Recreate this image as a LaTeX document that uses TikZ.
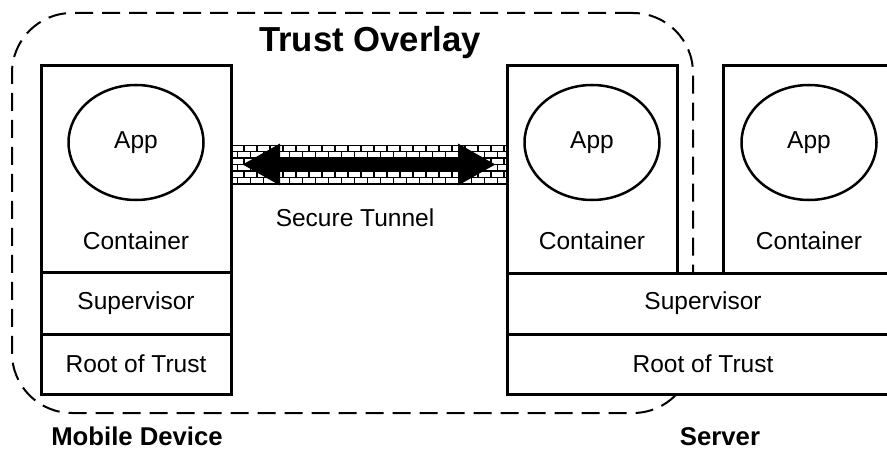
\documentclass[tikz,border=0pt]{standalone}
\usepackage{fontspec}
\setmainfont{Liberation Sans}
\usetikzlibrary{arrows.meta,positioning,shapes.geometric}

\tikzset{
    layer/.style={draw, line width=3pt, fill=white, inner sep=0pt, outer sep=0pt,
        minimum width=#1, font=\fontsize{24.5pt}{28pt}\selectfont},
    app/.style={ellipse, draw, line width=2.5pt, fill=white, minimum width=135pt,
        minimum height=115pt, inner sep=0pt, font=\fontsize{24.5pt}{28pt}\selectfont},
    lbl/.style={font=\fontsize{24.5pt}{28pt}\selectfont},
    caption/.style={font=\bfseries\fontsize{25.7pt}{30pt}\selectfont},
    mortar/.style={line width=1.5pt},
}

\begin{document}
\begin{tikzpicture}[x=1pt, y=-1pt]
    \useasboundingbox (0,0) rectangle (887,452);
    \clip (0,0) rectangle (887,452);

    % trust overlay, behind everything
    \node[draw, dashed, dash pattern=on 18pt off 9pt, line width=2pt, rounded corners=60pt,
        minimum width=681pt, minimum height=400pt, inner sep=0pt] (overlay) at (352.5,213) {};
    \node[font=\bfseries\fontsize{34.7pt}{40pt}\selectfont] (title) at (370,43) {Trust Overlay};

    % mobile device
    \node[layer=190pt, minimum height=206pt] (mcont) at (136,169) {};
    \node[layer=190pt, minimum height=62pt, below=0pt of mcont] (msup) {Supervisor};
    \node[layer=190pt, minimum height=60pt, below=0pt of msup] (mroot) {Root of Trust};
    \node[app] (mapp) at (136,142.5) {App};
    \node[lbl] (mlbl) at (136,241) {Container};
    \node[caption] (mobile) at (137,436) {Mobile Device};

    % server
    \node[layer=170pt, minimum height=207pt] (scont) at (592,169.5) {};
    \node[layer=172pt, minimum height=207pt] (xcont) at (809,169.5) {};
    \node[layer=392pt, minimum height=61pt, anchor=north west] (ssup) at (scont.south west) {Supervisor};
    \node[layer=392pt, minimum height=60pt, below=0pt of ssup] (sroot) {Root of Trust};
    \node[app] (sapp) at (592,142.5) {App};
    \node[app] (xapp) at (809,142.5) {App};
    \node[lbl] (slbl) at (592,241) {Container};
    \node[lbl] (xlbl) at (809,241) {Container};
    \node[caption] (server) at (720,437) {Server};

    % secure tunnel
    \node[inner sep=0pt, outer sep=0pt, minimum width=276pt, minimum height=39pt] (tunnel) at (369,164.5) {};
    \begin{scope}
        \clip (tunnel.north west) rectangle (tunnel.south east);
        \foreach \r in {0,...,5} {
            \draw[mortar] (231,145+6.5*\r) -- (507,145+6.5*\r);
            \pgfmathsetmacro\off{mod(\r,2)*6.5}
            \foreach \k in {0,...,21}
                \draw[mortar] (231+\off+13*\k,145+6.5*\r) -- ++(0,6.5);
        }
        \draw[mortar] (231,184) -- (507,184);
    \end{scope}
    \draw[line width=13pt, shorten <=11pt, shorten >=11pt,
        {Triangle[length=38pt,width=39pt]}-{Triangle[length=38pt,width=39pt]}]
        (tunnel.west) -- (tunnel.east);
    \node[lbl] (tlbl) at (355,218) {Secure Tunnel};
\end{tikzpicture}
\end{document}
